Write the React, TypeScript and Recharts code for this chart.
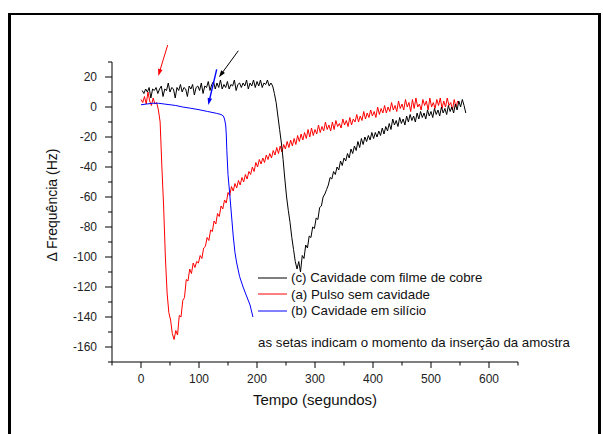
import React from "react";
import { LineChart, Line, XAxis, YAxis, ReferenceLine, Legend } from "recharts";

// (a) Pulso sem cavidade, sampled every 3 s from t = 0
const redStep = 3;
const redValues = [
  5, 3, 7, 2, 10, 4, 1, 6, 2, 3,
  -2, -10, -40, -66, -100, -124, -137, -142, -151, -155,
  -149, -152, -139, -140, -129, -127, -115, -116, -108, -111,
  -104, -107, -103, -104, -99, -101, -94, -93, -87, -89,
  -82, -83, -76, -78, -71, -73, -66, -68, -62, -64,
  -57, -59, -53, -56, -51, -54, -49, -52, -47, -50,
  -45, -48, -43, -45, -40, -43, -37, -40, -35, -38,
  -34, -37, -32, -35, -31, -34, -29, -32, -27, -31,
  -26, -30, -25, -28, -23, -27, -22, -26, -21, -25,
  -19, -23, -18, -22, -17, -21, -15, -20, -14, -19,
  -15, -18, -12, -17, -13, -16, -10, -15, -12, -16,
  -10, -15, -9, -13, -11, -14, -8, -12, -9, -13,
  -7, -12, -8, -10, -5, -10, -6, -9, -3, -8,
  -4, -7, -2, -6, -3, -7, 0, -5, -1, -4,
  1, -4, 0, -3, 3, -2, 1, -3, 4, -1,
  2, -2, 5, 0, 3, -3, 5, -1, 6, 0,
  2, -2, 5, 1, 4, -2, 6, 0, 3, -1,
  5, 1, 6, -1, 4, 0, 6, 1, 3, -2,
  5, 0, 4, 2,
];

// (c) Cavidade com filme de cobre, sampled every 3 s from t = 2
const blackStart = 2;
const blackStep = 3;
const blackValues = [
  11, 9, 12, 10, 13, 6, 12, 11, 13, 9,
  12, 14, 7, 12, 11, 16, 10, 13, 12, 6,
  13, 11, 15, 10, 13, 12, 7, 14, 12, 15,
  8, 13, 14, 11, 16, 9, 14, 13, 17, 11,
  15, 17, 12, 16, 13, 18, 12, 15, 13, 17,
  12, 15, 14, 18, 11, 15, 16, 13, 16, 14,
  18, 12, 16, 14, 18, 13, 17, 14, 18, 13,
  16, 15, 18, 14, 16, 14, 9, 3, -6, -15,
  -24, -35, -48, -60, -69, -77, -87, -95, -103, -108,
  -103, -110, -99, -101, -92, -94, -86, -87, -80, -81,
  -74, -75, -67, -66, -60, -58, -55, -52, -47, -48,
  -43, -45, -40, -42, -36, -39, -34, -36, -31, -34,
  -28, -31, -26, -29, -23, -27, -21, -25, -20, -23,
  -19, -22, -17, -21, -17, -20, -16, -19, -14, -18,
  -13, -16, -11, -15, -8, -12, -9, -13, -7, -11,
  -8, -12, -6, -10, -5, -9, -6, -10, -4, -8,
  -3, -7, -4, -8, -2, -6, -3, -7, -1, -5,
  -2, -6, 0, -4, -1, -5, 1, -3, 0, -4,
  2, -2, 4, 0, 5, 1, -4,
];

// (b) Cavidade em silício
const blueTimes = [0, 10, 20, 30, 40, 50, 60, 72, 85, 100, 115, 130, 138, 142, 144, 146, 147, 148, 150, 153, 156, 159, 162, 165, 170, 176, 182, 188, 193];
const blueValues = [1.5, 2, 2.5, 2.5, 2, 1.5, 1, 0, -0.8, -1.8, -3, -4.2, -5, -6, -8, -12, -18, -29, -45, -58, -72, -86, -97, -104, -113, -120, -126, -132, -140];

const xTicks = [-50, 0, 50, 100, 150, 200, 250, 300, 350, 400, 450, 500, 550, 600, 650];
const yTicks = [-170, -160, -150, -140, -130, -120, -110, -100, -90, -80, -70, -60, -50, -40, -30, -20, -10, 0, 10, 20, 30];

const arrows = [
  { color: "#ff0000", from: { x: 46, y: 41.3 }, to: { x: 29.8, y: 20.7 }, width: 1 },
  { color: "#000000", from: { x: 167.8, y: 37.5 }, to: { x: 134.4, y: 19.8 }, width: 1 },
  { color: "#0000ff", from: { x: 130.5, y: 25.1 }, to: { x: 116, y: 1.3 }, width: 1.4 },
];

const legendItems = [
  { label: "(c) Cavidade com filme de cobre", color: "#000000" },
  { label: "(a) Pulso sem cavidade", color: "#ff0000" },
  { label: "(b) Cavidade em silício", color: "#0000ff" },
];

const FONT = "'Liberation Sans', Arial, sans-serif";

const redData = redValues.map((v, i) => ({ t: i * redStep, v }));
const blackData = blackValues.map((v, i) => ({ t: blackStart + i * blackStep, v }));
const blueData = blueTimes.map((t, i) => ({ t, v: blueValues[i] }));

function XTick({ x, y, payload }: any) {
  const v = payload.value;
  const major = v % 100 === 0;
  return (
    <g>
      <line x1={x} y1={y} x2={x} y2={y + (major ? 6 : 3.5)} stroke="#000" />
      {major && (
        <text x={x} y={y + 21} textAnchor="middle" fontSize={12} fill="#222" fontFamily={FONT}>
          {v}
        </text>
      )}
    </g>
  );
}

function YTick({ x, y, payload }: any) {
  const v = payload.value;
  const major = v % 20 === 0;
  return (
    <g>
      <line x1={x - (major ? 7 : 4)} y1={y} x2={x} y2={y} stroke="#000" />
      {major && (
        <text x={x - 15} y={y + 4.3} textAnchor="end" fontSize={12} fill="#222" fontFamily={FONT}>
          {v}
        </text>
      )}
    </g>
  );
}

function ArrowShape(props: any) {
  const { x1, y1, x2, y2, stroke, strokeWidth } = props;
  const dx = x2 - x1;
  const dy = y2 - y1;
  const len = Math.hypot(dx, dy) || 1;
  const ux = dx / len;
  const uy = dy / len;
  const hl = 7;
  const hw = 2.3;
  const bx = x2 - ux * hl;
  const by = y2 - uy * hl;
  const pts = `${x2},${y2} ${bx - uy * hw},${by + ux * hw} ${bx + uy * hw},${by - ux * hw}`;
  return (
    <g>
      <line x1={x1} y1={y1} x2={bx + ux * 1} y2={by + uy * 1} stroke={stroke} strokeWidth={strokeWidth} />
      <polygon points={pts} fill={stroke} />
    </g>
  );
}

function LegendBox() {
  return (
    <div style={{ fontFamily: FONT, fontSize: 13.3, color: "#111" }}>
      {legendItems.map((it) => (
        <div key={it.label} style={{ display: "flex", alignItems: "center", height: 16.5, whiteSpace: "nowrap" }}>
          <svg width={33} height={4} style={{ display: "block" }}>
            <line x1={0} y1={2} x2={29} y2={2} stroke={it.color} strokeWidth={1} />
          </svg>
          <span>{it.label}</span>
        </div>
      ))}
    </div>
  );
}

export default function App() {
  return (
    <div style={{ position: "absolute", left: 0, top: 0, width: 603, height: 434, overflow: "hidden", background: "#fff" }}>
      <div
        style={{
          position: "absolute",
          left: 8,
          top: 13,
          width: 587,
          height: 440,
          borderLeft: "3px solid #000",
          borderRight: "3px solid #000",
          borderTop: "2px solid #000",
        }}
      />
      <div style={{ position: "absolute", left: 0, top: 0 }}>
        <LineChart width={603} height={434} margin={{ top: 62, right: 85, left: 52, bottom: 42 }}>
          <XAxis
            type="number"
            dataKey="t"
            domain={[-50, 650]}
            ticks={xTicks}
            interval={0}
            allowDataOverflow
            height={30}
            tickSize={0}
            tickMargin={0}
            tickLine={false}
            tick={<XTick />}
            axisLine={{ stroke: "#000" }}
            label={{
              content: ({ viewBox }: any) => (
                <text
                  x={viewBox.x + viewBox.width / 2}
                  y={viewBox.y + 43}
                  textAnchor="middle"
                  fontSize={15}
                  fill="#111"
                  fontFamily={FONT}
                >
                  Tempo (segundos)
                </text>
              ),
            }}
          />
          <YAxis
            type="number"
            domain={[-170, 30]}
            ticks={yTicks}
            interval={0}
            allowDataOverflow
            width={60}
            tickSize={0}
            tickMargin={0}
            tickLine={false}
            tick={<YTick />}
            axisLine={{ stroke: "#000" }}
            label={{
              content: ({ viewBox }: any) => {
                const cx = viewBox.x + 4.7;
                const cy = viewBox.y + viewBox.height / 2 - 7;
                return (
                  <text
                    x={cx}
                    y={cy}
                    transform={`rotate(-90 ${cx} ${cy})`}
                    textAnchor="middle"
                    fontSize={14}
                    fill="#111"
                    fontFamily={FONT}
                  >
                    Δ Frequência (Hz)
                  </text>
                );
              },
            }}
          />
          <Line data={redData} dataKey="v" type="linear" dot={false} stroke="#ff0000" strokeWidth={1} isAnimationActive={false} />
          <Line data={blueData} dataKey="v" type="linear" dot={false} stroke="#0000ff" strokeWidth={1} isAnimationActive={false} />
          <Line data={blackData} dataKey="v" type="linear" dot={false} stroke="#000000" strokeWidth={1} isAnimationActive={false} />
          {arrows.map((a, i) => (
            <ReferenceLine
              key={i}
              segment={[a.from, a.to]}
              ifOverflow="visible"
              stroke={a.color}
              strokeWidth={a.width}
              shape={ArrowShape}
            />
          ))}
          <Legend
            layout="horizontal"
            verticalAlign="middle"
            align="center"
            content={<LegendBox />}
            wrapperStyle={{ left: 258, top: 269.5, width: "auto" }}
          />
        </LineChart>
      </div>
      <div
        style={{
          position: "absolute",
          left: 258,
          top: 335,
          fontFamily: FONT,
          fontSize: 13.3,
          color: "#111",
          whiteSpace: "nowrap",
          lineHeight: "16px",
        }}
      >
        as setas indicam o momento da inserção da amostra
      </div>
    </div>
  );
}
